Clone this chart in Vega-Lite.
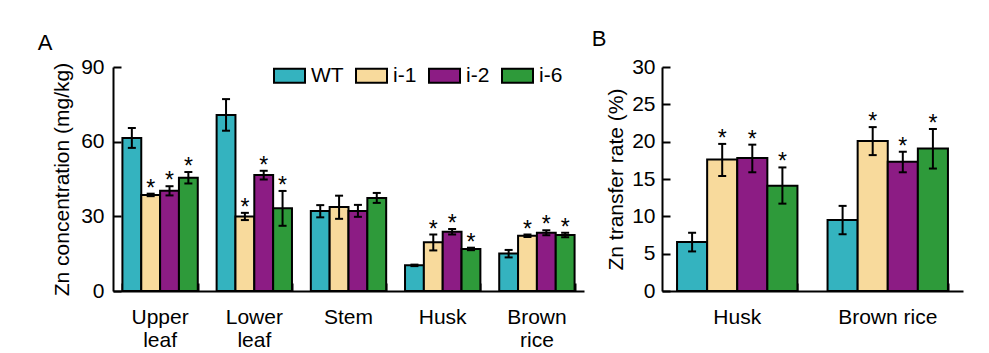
{
  "$schema": "https://vega.github.io/schema/vega-lite/v6.json",
  "background": "white",
  "padding": {"left": 37, "top": 28, "right": 5, "bottom": 0},
  "spacing": 7,
  "config": {
    "font": "Liberation Sans",
    "view": {"stroke": null},
    "axis": {
      "domainColor": "black", "domainWidth": 2, "tickColor": "black", "tickWidth": 2,
      "tickSize": 8, "labelColor": "black", "labelFontSize": 21, "titleFontSize": 21,
      "titleFontWeight": "normal", "titleColor": "black", "grid": false, "labelFont": "Liberation Sans", "titleFont": "Liberation Sans"
    },
    "title": {"fontSize": 22, "fontWeight": "normal", "font": "Liberation Sans", "color": "black", "anchor": "start", "frame": "bounds"}
  },
  "datasets": {
    "conc": [
      {"part": "Upper leaf", "line": "WT", "mean": 61.5, "lo": 57.5, "hi": 65.5, "sig": ""},
      {"part": "Upper leaf", "line": "i-1", "mean": 38.6, "lo": 38.1, "hi": 39.1, "sig": "*"},
      {"part": "Upper leaf", "line": "i-2", "mean": 40.3, "lo": 38.4, "hi": 42.1, "sig": "*"},
      {"part": "Upper leaf", "line": "i-6", "mean": 45.5, "lo": 43.2, "hi": 47.8, "sig": "*"},
      {"part": "Lower leaf", "line": "WT", "mean": 70.7, "lo": 64.4, "hi": 77.1, "sig": ""},
      {"part": "Lower leaf", "line": "i-1", "mean": 29.9, "lo": 28.5, "hi": 31.4, "sig": "*"},
      {"part": "Lower leaf", "line": "i-2", "mean": 46.6, "lo": 44.8, "hi": 48.3, "sig": "*"},
      {"part": "Lower leaf", "line": "i-6", "mean": 33.2, "lo": 26.2, "hi": 40.2, "sig": "*"},
      {"part": "Stem", "line": "WT", "mean": 32.1, "lo": 29.6, "hi": 34.5, "sig": ""},
      {"part": "Stem", "line": "i-1", "mean": 33.7, "lo": 29.0, "hi": 38.3, "sig": ""},
      {"part": "Stem", "line": "i-2", "mean": 32.1, "lo": 29.8, "hi": 34.6, "sig": ""},
      {"part": "Stem", "line": "i-6", "mean": 37.4, "lo": 35.4, "hi": 39.4, "sig": ""},
      {"part": "Husk", "line": "WT", "mean": 10.3, "lo": 10.0, "hi": 10.6, "sig": ""},
      {"part": "Husk", "line": "i-1", "mean": 19.6, "lo": 16.3, "hi": 22.7, "sig": "*"},
      {"part": "Husk", "line": "i-2", "mean": 23.8, "lo": 22.7, "hi": 24.9, "sig": "*"},
      {"part": "Husk", "line": "i-6", "mean": 16.9, "lo": 16.4, "hi": 17.4, "sig": "*"},
      {"part": "Brown rice", "line": "WT", "mean": 15.1, "lo": 13.5, "hi": 16.5, "sig": ""},
      {"part": "Brown rice", "line": "i-1", "mean": 22.2, "lo": 21.7, "hi": 22.7, "sig": "*"},
      {"part": "Brown rice", "line": "i-2", "mean": 23.4, "lo": 22.4, "hi": 24.4, "sig": "*"},
      {"part": "Brown rice", "line": "i-6", "mean": 22.5, "lo": 21.6, "hi": 23.4, "sig": "*"}
    ],
    "rate": [
      {"part": "Husk", "line": "WT", "mean": 6.56, "lo": 5.3, "hi": 7.8, "sig": ""},
      {"part": "Husk", "line": "i-1", "mean": 17.6, "lo": 15.4, "hi": 19.7, "sig": "*"},
      {"part": "Husk", "line": "i-2", "mean": 17.8, "lo": 15.9, "hi": 19.6, "sig": "*"},
      {"part": "Husk", "line": "i-6", "mean": 14.1, "lo": 11.7, "hi": 16.55, "sig": "*"},
      {"part": "Brown rice", "line": "WT", "mean": 9.5, "lo": 7.6, "hi": 11.4, "sig": ""},
      {"part": "Brown rice", "line": "i-1", "mean": 20.1, "lo": 18.2, "hi": 21.95, "sig": "*"},
      {"part": "Brown rice", "line": "i-2", "mean": 17.3, "lo": 15.9, "hi": 18.65, "sig": "*"},
      {"part": "Brown rice", "line": "i-6", "mean": 19.1, "lo": 16.4, "hi": 21.7, "sig": "*"}
    ]
  },
  "resolve": {"scale": {"color": "independent", "x": "independent", "y": "independent", "xOffset": "independent"}, "legend": {"color": "independent"}},
  "hconcat": [
    {
      "width": 471, "height": 224,
      "title": {"text": "A", "dx": -14, "offset": 1},
      "data": {"name": "conc"},
      "resolve": {"axis": {"x": "independent", "y": "independent"}},
      "encoding": {
        "xOffset": {"field": "line", "type": "nominal", "sort": ["WT", "i-1", "i-2", "i-6"], "scale": {"paddingInner": 0, "paddingOuter": 0}}
      },
      "layer": [
        {
          "mark": {"type": "bar", "stroke": "black", "strokeWidth": 2},
          "encoding": {
            "x": {"field": "part", "type": "nominal", "sort": ["Upper leaf", "Lower leaf", "Stem", "Husk", "Brown rice"],
              "scale": {"paddingInner": 0.2, "paddingOuter": 0.1},
              "axis": {"title": null, "orient": "bottom", "labelAngle": 0, "ticks": false, "labelPadding": 15, "labelExpr": "split(datum.label, ' ')", "labelLineHeight": 23, "labelBaseline": "top"}},
            "y": {"field": "mean", "type": "quantitative", "scale": {"domain": [0, 90], "nice": false},
              "axis": {"orient": "left", "values": [0, 30, 60, 90], "ticks": false, "title": "Zn concentration (mg/kg)", "labelPadding": 9, "titlePadding": 8}},
            "color": {"field": "line", "type": "nominal",
              "scale": {"domain": ["WT", "i-1", "i-2", "i-6"], "range": ["#34B3BF", "#F8DA9C", "#8C1C84", "#2E9A3A"]},
              "legend": {"title": null, "orient": "none", "legendX": 160, "legendY": -8, "direction": "horizontal",
                "symbolType": "M-1,-0.45H1V0.45H-1Z", "symbolSize": 961, "symbolStrokeColor": "black", "symbolStrokeWidth": 2,
                "symbolOpacity": 1, "labelFontSize": 21, "labelColor": "black", "labelOffset": 5, "columnPadding": 8, "labelFont": "Liberation Sans"}}
          }
        },
        {
          "mark": {"type": "rule", "color": "black", "strokeWidth": 2},
          "encoding": {
            "x": {"field": "part", "type": "nominal", "sort": ["Upper leaf", "Lower leaf", "Stem", "Husk", "Brown rice"],
              "axis": {"title": null, "orient": "bottom", "offset": -8, "domain": false, "labels": false, "tickBand": "extent"}},
            "y": {"field": "lo", "type": "quantitative",
              "axis": {"orient": "left", "offset": -8, "domain": false, "labels": false, "title": null, "values": [0, 30, 60, 90]}},
            "y2": {"field": "hi"}
          }
        },
        {
          "mark": {"type": "tick", "color": "black", "thickness": 2, "size": 8, "opacity": 1},
          "encoding": {
            "x": {"field": "part", "type": "nominal", "sort": ["Upper leaf", "Lower leaf", "Stem", "Husk", "Brown rice"], "axis": null},
            "y": {"field": "lo", "type": "quantitative", "axis": null}}
        },
        {
          "mark": {"type": "tick", "color": "black", "thickness": 2, "size": 8, "opacity": 1},
          "encoding": {
            "x": {"field": "part", "type": "nominal", "sort": ["Upper leaf", "Lower leaf", "Stem", "Husk", "Brown rice"], "axis": null},
            "y": {"field": "hi", "type": "quantitative", "axis": null}}
        },
        {
          "mark": {"type": "text", "fontSize": 23, "baseline": "alphabetic", "dy": 2, "color": "black"},
          "encoding": {
            "x": {"field": "part", "type": "nominal", "sort": ["Upper leaf", "Lower leaf", "Stem", "Husk", "Brown rice"], "axis": null},
            "y": {"field": "hi", "type": "quantitative", "axis": null}, "text": {"field": "sig"}}
        }
      ]
    },
    {
      "width": 301, "height": 224,
      "title": {"text": "B", "dx": -14, "offset": 5},
      "data": {"name": "rate"},
      "resolve": {"axis": {"x": "independent", "y": "independent"}},
      "encoding": {
        "xOffset": {"field": "line", "type": "nominal", "sort": ["WT", "i-1", "i-2", "i-6"], "scale": {"paddingInner": 0, "paddingOuter": 0}}
      },
      "layer": [
        {
          "mark": {"type": "bar", "stroke": "black", "strokeWidth": 2},
          "encoding": {
            "x": {"field": "part", "type": "nominal", "sort": ["Husk", "Brown rice"],
              "scale": {"paddingInner": 0.2, "paddingOuter": 0.1},
              "axis": {"title": null, "orient": "bottom", "labelAngle": 0, "ticks": false, "labelPadding": 15, "labelBaseline": "top"}},
            "y": {"field": "mean", "type": "quantitative", "scale": {"domain": [0, 30], "nice": false},
              "axis": {"orient": "left", "values": [0, 5, 10, 15, 20, 25, 30], "ticks": false, "title": "Zn transfer rate (%)", "labelPadding": 7, "titlePadding": 5}},
            "color": {"field": "line", "type": "nominal",
              "scale": {"domain": ["WT", "i-1", "i-2", "i-6"], "range": ["#34B3BF", "#F8DA9C", "#8C1C84", "#2E9A3A"]},
              "legend": null}
          }
        },
        {
          "mark": {"type": "rule", "color": "black", "strokeWidth": 2},
          "encoding": {
            "x": {"field": "part", "type": "nominal", "sort": ["Husk", "Brown rice"],
              "axis": {"title": null, "orient": "bottom", "offset": -8, "domain": false, "labels": false, "tickBand": "extent"}},
            "y": {"field": "lo", "type": "quantitative",
              "axis": {"orient": "left", "offset": -8, "domain": false, "labels": false, "title": null, "values": [0, 5, 10, 15, 20, 25, 30]}},
            "y2": {"field": "hi"}
          }
        },
        {
          "mark": {"type": "tick", "color": "black", "thickness": 2, "size": 8, "opacity": 1},
          "encoding": {
            "x": {"field": "part", "type": "nominal", "sort": ["Husk", "Brown rice"], "axis": null},
            "y": {"field": "lo", "type": "quantitative", "axis": null}}
        },
        {
          "mark": {"type": "tick", "color": "black", "thickness": 2, "size": 8, "opacity": 1},
          "encoding": {
            "x": {"field": "part", "type": "nominal", "sort": ["Husk", "Brown rice"], "axis": null},
            "y": {"field": "hi", "type": "quantitative", "axis": null}}
        },
        {
          "mark": {"type": "text", "fontSize": 23, "baseline": "alphabetic", "dy": 2, "color": "black"},
          "encoding": {
            "x": {"field": "part", "type": "nominal", "sort": ["Husk", "Brown rice"], "axis": null},
            "y": {"field": "hi", "type": "quantitative", "axis": null}, "text": {"field": "sig"}}
        }
      ]
    }
  ]
}
